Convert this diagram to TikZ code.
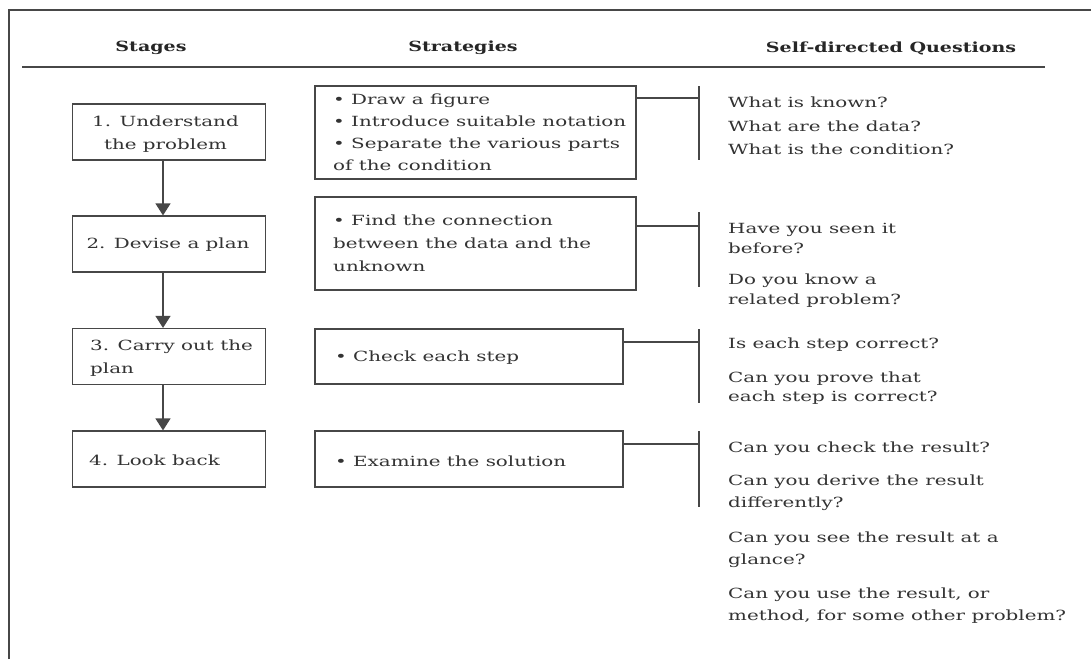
\documentclass[tikz,border=0pt]{standalone}
\usepackage{fontspec}
\setmainfont{DejaVu Serif}[FakeStretch=1.42]
\newfontfamily\headfont{DejaVu Serif}[FakeStretch=1.36]
\usetikzlibrary{arrows.meta}
\begin{document}
\begin{tikzpicture}[x=1pt,y=-1pt,
  line/.style={draw=black!72, line width=1.2pt},
  txt/.style={text=black!80, font=\fontsize{14}{20}\selectfont, inner sep=0pt},
  head/.style={text=black!85, font=\headfont\fontsize{14}{19}\selectfont\bfseries, inner sep=0pt},
  stagebox/.style={line, minimum width=193pt, minimum height=56pt, inner sep=0pt},
  stratbox/.style={line, inner sep=0pt},
  arr/.style={line, -{Triangle[width=15pt,length=12pt]}}]
\useasboundingbox (0,0) rectangle (1091,659);
\fill[white] (0,0) rectangle (1091,659);
% frame (top and left visible)
\draw[line] (9,659) -- (9,10) -- (1091,10);
% headers
\node[head] (hs) at (151,48) {Stages};
\node[head] (ht) at (463,48) {Strategies};
\node[head] (hq) at (891,48) {Self-directed Questions};
\draw[line] (22,67) -- (1045,67);
% stage boxes
\node[stagebox] (s1) at (169,132) {};
\node[txt, align=center, font=\fontsize{14}{23}\selectfont] (s1t) at (165.5,134) {1. Understand\\the problem};
\node[stagebox] (s2) at (169,244) {};
\node[txt] (s2t) at (168,245) {2. Devise a plan};
\node[stagebox] (s3) at (169,356.5) {};
\node[txt, anchor=west, align=left, font=\fontsize{14}{23}\selectfont] (s3t) at (90,358) {3. Carry out the\\plan};
\node[stagebox] (s4) at (169,459) {};
\node[txt, anchor=west] (s4t) at (89,460) {4. Look back};
\coordinate (ax) at (163,0);
\draw[arr] (s1.south -| ax) -- (s2.north -| ax);
\draw[arr] (s2.south -| ax) -- (s3.north -| ax);
\draw[arr] (s3.south -| ax) -- (s4.north -| ax);
% strategy boxes
\node[stratbox, minimum width=321pt, minimum height=93pt] (a) at (475.5,132.5) {};
\node[txt, anchor=north west, align=left, font=\fontsize{14}{22}\selectfont] (at) at (333,94) {• Draw a figure\\• Introduce suitable notation\\• Separate the various parts\\of the condition};
\node[stratbox, minimum width=321pt, minimum height=93pt] (b) at (475.5,243.5) {};
\node[txt, anchor=north west, align=left, font=\fontsize{14}{23}\selectfont] (bt) at (333,215) {• Find the connection\\between the data and the\\unknown};
\node[stratbox, minimum width=308pt, minimum height=55pt] (c) at (469,356.5) {};
\node[txt, anchor=west] (ct) at (335,358) {• Check each step};
\node[stratbox, minimum width=308pt, minimum height=56pt] (d) at (469,459) {};
\node[txt, anchor=west] (dt) at (335,461) {• Examine the solution};
% connectors
\coordinate (ja) at (699,98);  \coordinate (ba1) at (699,86);  \coordinate (ba2) at (699,160);
\coordinate (jb) at (699,226); \coordinate (bb1) at (699,212); \coordinate (bb2) at (699,287);
\coordinate (jc) at (699,342); \coordinate (bc1) at (699,329); \coordinate (bc2) at (699,403);
\coordinate (jd) at (699,444); \coordinate (bd1) at (699,431); \coordinate (bd2) at (699,507);
\draw[line] (ja -| a.east) -- (ja); \draw[line] (ba1) -- (ba2);
\draw[line] (jb -| b.east) -- (jb); \draw[line] (bb1) -- (bb2);
\draw[line] (jc -| c.east) -- (jc); \draw[line] (bc1) -- (bc2);
\draw[line] (jd -| d.east) -- (jd); \draw[line] (bd1) -- (bd2);
% questions
\node[txt, anchor=north west, align=left, font=\fontsize{14}{23.5}\selectfont] (q1) at (728,97) {What is known?\\What are the data?\\What is the condition?};
\node[txt, anchor=north west, align=left] (q2a) at (728,223) {Have you seen it\\before?};
\node[txt, anchor=north west, align=left] (q2b) at (728,274) {Do you know a\\related problem?};
\node[txt, anchor=north west, align=left] (q3a) at (728,338) {Is each step correct?};
\node[txt, anchor=north west, align=left, font=\fontsize{14}{19}\selectfont] (q3b) at (728,372) {Can you prove that\\each step is correct?};
\node[txt, anchor=north west, align=left] (q4a) at (728,442) {Can you check the result?};
\node[txt, anchor=north west, align=left, font=\fontsize{14}{22}\selectfont] (q4b) at (728,475) {Can you derive the result\\differently?};
\node[txt, anchor=north west, align=left, font=\fontsize{14}{22}\selectfont] (q4c) at (728,532) {Can you see the result at a\\glance?};
\node[txt, anchor=north west, align=left, font=\fontsize{14}{22}\selectfont] (q4d) at (728,588) {Can you use the result, or\\method, for some other problem?};
\end{tikzpicture}
\end{document}
